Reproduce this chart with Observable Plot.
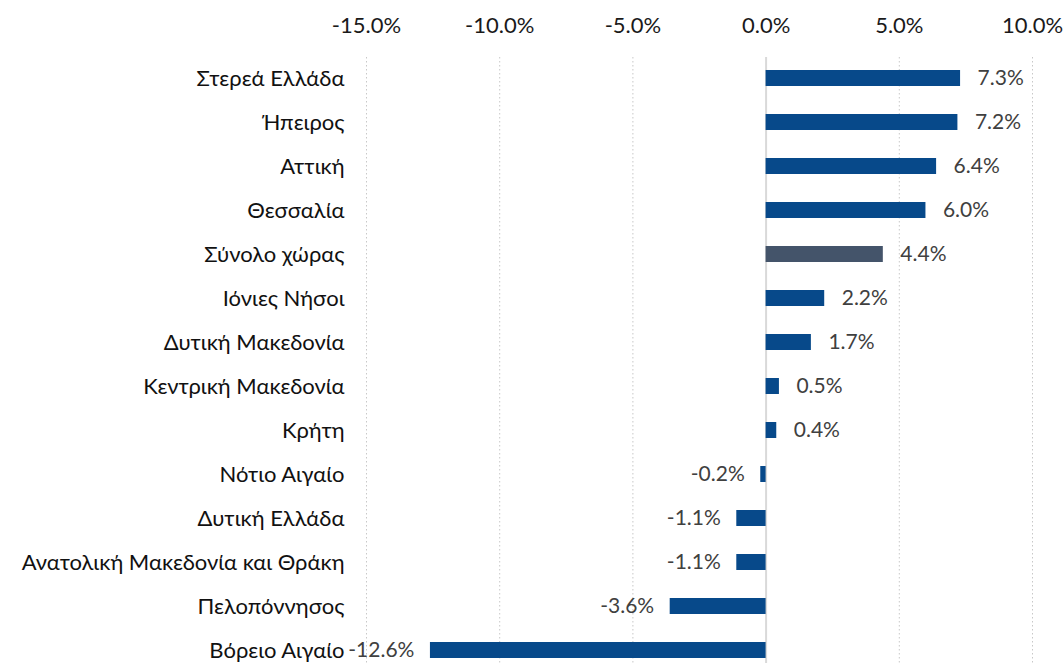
<!DOCTYPE html>
<html><head><meta charset="utf-8">
<script src="https://cdn.jsdelivr.net/npm/d3@7"></script>
<script src="https://cdn.jsdelivr.net/npm/@observablehq/plot@0.6"></script>
<style>
html,body{margin:0;padding:0;background:#fff;}
#chart{width:1063px;height:663px;}
</style>
</head><body><div id="chart"></div>
<script>
const regions = ["Στερεά Ελλάδα","Ήπειρος","Αττική","Θεσσαλία","Σύνολο χώρας","Ιόνιες Νήσοι","Δυτική Μακεδονία","Κεντρική Μακεδονία","Κρήτη","Νότιο Αιγαίο","Δυτική Ελλάδα","Ανατολική Μακεδονία και Θράκη","Πελοπόννησος","Βόρειο Αιγαίο"];
const values = [7.3,7.2,6.4,6.0,4.4,2.2,1.7,0.5,0.4,-0.2,-1.1,-1.1,-3.6,-12.6];
const xTicks = [-15,-10,-5,0,5,10];
const totalLabel = "Σύνολο χώρας";

const data = regions.map((r,i)=>({region:r, value:values[i]}));
const fmt = v => v.toFixed(1) + "%";
const font = "Lato, Open Sans, sans-serif";

const chart = Plot.plot({
  width:1063, height:663,
  marginTop:57, marginBottom:0, marginLeft:366, marginRight:31,
  style:{fontFamily:font, background:"#fff"},
  x:{domain:[-15,10], ticks:xTicks, axis:null},
  y:{domain:regions, paddingInner:0.636, paddingOuter:0.1, insetTop:9, axis:null},
  marks:[
    Plot.gridX(xTicks.filter(t=>t!==0), {stroke:"#c8c8c8", strokeOpacity:1, strokeDasharray:"1.5,2.5", strokeWidth:1}),
    Plot.ruleX([0], {stroke:"#d9d9d9", strokeWidth:2}),
    Plot.axisX({anchor:"top", ticks:xTicks, tickSize:0, tickPadding:25, tickFormat:d=>d.toFixed(1)+"%", fontSize:22, fill:"#1a1a1a", label:null}),
    Plot.axisY({ticks:regions, tickSize:0, tickPadding:22, fontSize:22, fill:"#111", label:null}),
    Plot.barX(data, {y:"region", x:"value", fill:d=>d.region===totalLabel?"#44546a":"#07498a"}),
    Plot.text(data, {y:"region", x:"value", text:d=>fmt(d.value), textAnchor:"start", filter:d=>d.value>=0, dx:17, fontSize:21, fill:"#404040"}),
    Plot.text(data, {y:"region", x:"value", text:d=>fmt(d.value), textAnchor:"end", filter:d=>d.value<0, dx:-16, fontSize:21, fill:"#404040"})
  ]
});
document.getElementById("chart").appendChild(chart);
</script>
</body></html>
